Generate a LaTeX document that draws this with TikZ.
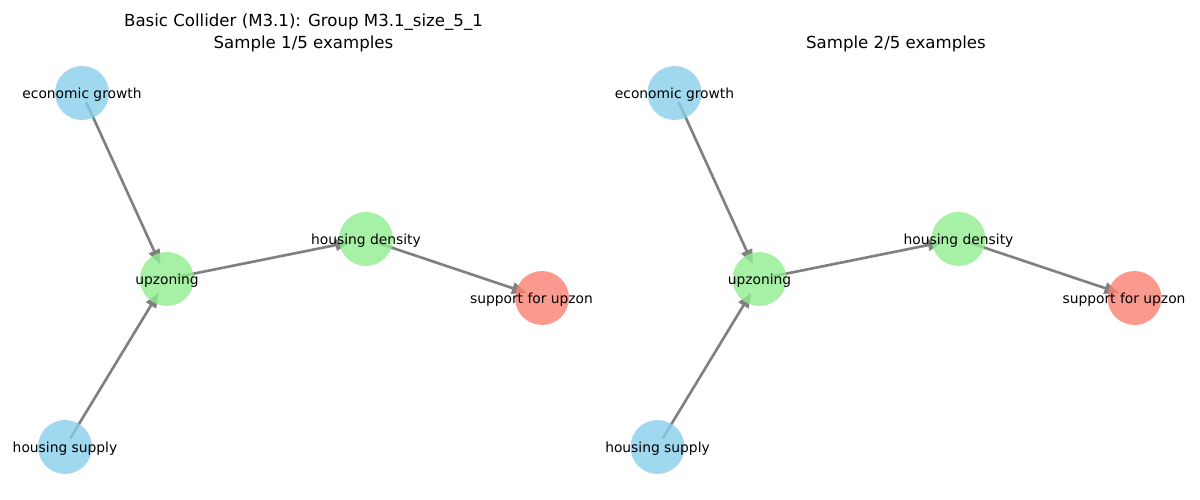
\documentclass[tikz,border=0pt]{standalone}
\usepackage{fontspec}
\setmainfont{DejaVu Sans}
\usetikzlibrary{arrows.meta}

\pgfdeclarelayer{bg}
\pgfsetlayers{bg,main}

\definecolor{cause}{RGB}{135,206,235}
\definecolor{mediator}{RGB}{144,238,144}
\definecolor{outcome}{RGB}{250,128,114}
\definecolor{edgegray}{RGB}{128,128,128}

\tikzset{
 blob/.style={circle,minimum size=1.08cm,inner sep=0pt,fill opacity=0.8},
 lbl/.style={inner sep=0pt,text opacity=1,fill opacity=1,yshift=-0.035cm,
   font=\fontsize{7.87}{9}\selectfont},
 caption/.style={anchor=south,inner sep=0pt,align=center,
   font=\fontsize{9.45}{12.5}\selectfont},
 link/.style={edgegray,line width=1.5pt,shorten <=0.2cm,shorten >=0.32cm,
   -{Triangle[length=8.5pt,width=6.5pt]}}
}

\begin{document}
\begin{tikzpicture}[x=0.02cm,y=-0.02cm]

\newcommand{\collider}[2] % [prefix][title]
{
 \node[caption] (#1title) at (303.5,52) {#2};
 \node[blob,fill=cause,label={[lbl]center:economic growth}] (#1eg) at (82,93) {};
 \node[blob,fill=mediator,label={[lbl]center:upzoning}] (#1up) at (167,279) {};
 \node[blob,fill=mediator,label={[lbl]center:housing density}] (#1hd) at (366,239) {};
 \node[blob,fill=outcome,label={[lbl,xshift=-0.21cm]center:support for upzon}] (#1su) at (542,298) {};
 \node[blob,fill=cause,label={[lbl]center:housing supply}] (#1hs) at (65,447) {};
 \begin{pgfonlayer}{bg}
  \draw[link] (#1eg.center) -- (#1up.center);
  \draw[link] (#1hs.center) -- (#1up.center);
  \draw[link] (#1up.center) -- (#1hd.center);
  \draw[link] (#1hd.center) -- (#1su.center);
 \end{pgfonlayer}
}

\useasboundingbox (0,0) rectangle (1200,500);

\begin{scope}
 \collider{a}{Basic Collider (M3.1): Group M3.1\_size\_5\_1\\Sample 1/5 examples}
\end{scope}
\begin{scope}[shift={(592.5,0)}]
 \collider{b}{Sample 2/5 examples}
\end{scope}

\end{tikzpicture}
\end{document}
